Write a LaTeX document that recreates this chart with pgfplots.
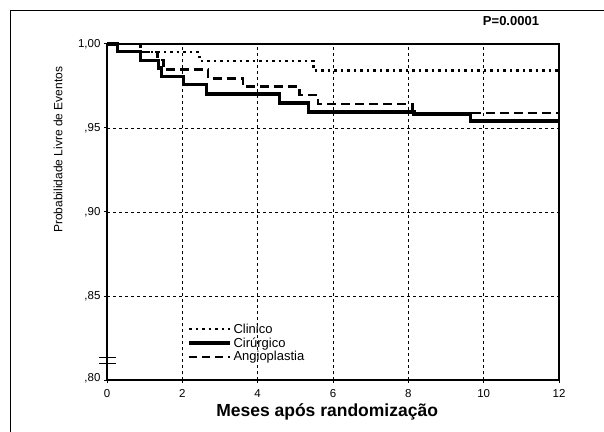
\documentclass[border=0pt]{standalone}
\usepackage{pgfplots}
\pgfplotsset{compat=1.18}
\usepackage{fontspec}
\setmainfont{Liberation Sans}
\begin{document}
\begin{tikzpicture}
\useasboundingbox (0pt,0pt) rectangle (604pt,431pt);
\draw[line width=1pt] (10pt,-2pt) -- (10pt,420pt) -- (606pt,420pt);
\node[font=\fontsize{13}{15}\selectfont\bfseries] at (511pt,410pt) {P=0.0001};
\begin{axis}[
  at={(107pt,51pt)}, anchor=south west,
  scale only axis, width=452pt, height=336pt,
  xmin=0, xmax=12, ymin=0.80, ymax=1.00,
  xtick={0,2,4,6,8,10,12},
  ytick={0.80,0.85,0.90,0.95,1.00},
  yticklabels={{\raisebox{6pt}{,80}},{,85},{,90},{,95},{1,00}},
  /pgf/number format/assume math mode=true,
  tick align=outside, major tick length=3pt,
  xtick pos=bottom, ytick pos=left,
  tick style={black, line width=1pt},
  axis line style={line width=1.1pt},
  ticklabel style={font=\fontsize{11.5}{13}\selectfont},
  xticklabel style={yshift=-3pt},
  grid=major,
  major grid style={black, line width=0.7pt, dash pattern=on 3pt off 3pt},
  xlabel={Meses após randomização},
  xlabel style={at={(axis description cs:0.487,-0.095)}, anchor=center, font=\fontsize{17.5}{20}\selectfont\bfseries},
  ylabel={Probabilidade Livre de Eventos},
  ylabel style={at={(axis description cs:-0.108,0.685)}, anchor=center, font=\fontsize{12}{14}\selectfont},
  legend style={draw=none, fill=none, at={(axis description cs:0.177,0.110)}, anchor=west,
    inner sep=0pt, row sep=0pt, font=\fontsize{13}{14}\selectfont, nodes={inner sep=1.5pt}},
  legend cell align=left,
  legend image code/.code={\draw[#1] (0pt,0pt) -- (41pt,0pt);},
  clip=false,
]
\addlegendimage{black, line width=2.6pt, dash pattern=on 2.5pt off 4pt}
\addlegendentry{Clinico}
\addlegendimage{black, line width=3.8pt}
\addlegendentry{Cirúrgico}
\addlegendimage{black, line width=1.5pt, dash pattern=on 8pt off 5pt}
\addlegendentry{Angioplastia}

% Clinico (dotted)
\addplot[forget plot, const plot, black, line width=2.5pt, dash pattern=on 2.5pt off 4pt] coordinates {
(0,1.0) (0.88,0.9952) (2.45,0.9900) (5.48,0.9843) (12,0.9843)};
% Angioplastia (dashed)
\addplot[forget plot, const plot, black, line width=2.8pt, dash pattern=on 9pt off 5pt] coordinates {
(0,1.0) (0.88,0.9952) (1.35,0.9905) (1.49,0.9850) (2.68,0.9796) (3.61,0.9746) (5.12,0.9696) (5.60,0.9643) (8.12,0.9589) (12,0.9589)};
% Cirurgico (solid)
\addplot[forget plot, const plot, black, line width=3.2pt] coordinates {
(0,1.0) (0.28,0.9957) (0.88,0.9901) (1.36,0.9857) (1.45,0.9808) (2.03,0.9758) (2.65,0.9702) (4.59,0.9649) (5.34,0.9595) (8.15,0.9583) (9.64,0.9542) (12,0.9542)};

\draw[line width=1pt] (axis cs:-0.21,0.8131) -- (axis cs:0.24,0.8131);
\draw[line width=1pt] (axis cs:-0.21,0.8101) -- (axis cs:0.24,0.8101);
\end{axis}
\end{tikzpicture}
\end{document}
